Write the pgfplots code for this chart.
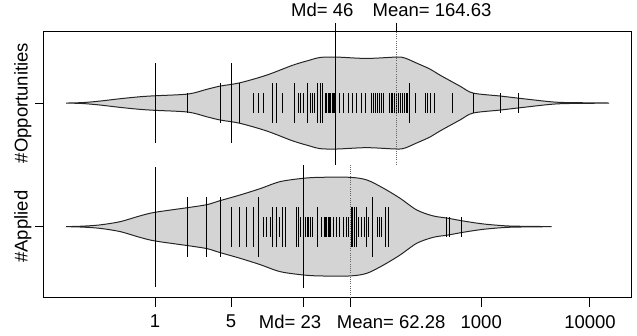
\documentclass[border=0pt]{standalone}
\usepackage{pgfplots}
\pgfplotsset{compat=1.18}
\usepackage{pgfplotstable}
\usepackage{fontspec}
\setmainfont{Liberation Sans}
\definecolor{beanfill}{gray}{0.83}
\definecolor{beanedge}{gray}{0.15}

% bean outlines: x value, signed half-width (upper half forward, lower half back)
\pgfplotstableread{
x h
0.1519 0
0.2178 0.004
0.3121 0.016
0.4767 0.035
0.7277 0.051
1 0.059
2.011 0.073
2.99 0.111
3.96 0.137
6.046 0.164
10.64 0.226
18.58 0.307
26.63 0.348
32.9 0.369
46.87 0.372
88.45 0.361
166.9 0.372
199 0.364
254.9 0.323
337.9 0.275
417.6 0.226
637.8 0.137
839.8 0.081
1487 0.057
2272 0.038
4287 0.011
6107 0.004
14950 0
6107 -0.004
4287 -0.011
2272 -0.038
1487 -0.057
839.8 -0.081
637.8 -0.137
417.6 -0.226
337.9 -0.275
254.9 -0.323
199 -0.364
166.9 -0.372
88.45 -0.361
46.87 -0.372
32.9 -0.369
26.63 -0.348
18.58 -0.307
10.64 -0.226
6.046 -0.164
3.96 -0.137
2.99 -0.111
2.011 -0.073
1 -0.059
0.7277 -0.051
0.4767 -0.035
0.3121 -0.016
0.2178 -0.004
0.1519 0
}\oppbean

\pgfplotstableread{
x h
0.1519 0
0.2178 0.004
0.3121 0.014
0.4767 0.040
0.7277 0.087
1 0.116
2.011 0.154
3.007 0.178
3.96 0.210
6.046 0.256
9.237 0.307
14.11 0.364
22.96 0.391
32.9 0.399
62.1 0.399
88.45 0.378
124.9 0.313
179 0.230
254.9 0.135
360 0.087
494.9 0.068
679.6 0.046
1038 0.022
1714 0.006
2807 0.002
4444 0
2807 -0.002
1714 -0.006
1038 -0.022
679.6 -0.046
494.9 -0.068
360 -0.087
254.9 -0.135
179 -0.230
124.9 -0.313
88.45 -0.378
62.1 -0.399
32.9 -0.399
22.96 -0.391
14.11 -0.364
9.237 -0.307
6.046 -0.256
3.96 -0.210
3.007 -0.178
2.011 -0.154
1 -0.116
0.7277 -0.087
0.4767 -0.040
0.3121 -0.014
0.2178 -0.004
0.1519 0
}\appbean

% bean lines: value, number of stacked observations
\pgfplotstableread{
x n
1 4
2 1
4 2
5 4
6 2
8 1
9 1
10 1
12 2
13 2
15 1
19 2
21 1
22 1
23 1
25 2
27 1
28 1
29 1
31 2
33 2
35 2
37 1
38 1
39 1
40 1
41 1
43 1
44 1
45 1
50 1
54 1
60 1
66 1
72 1
79 1
86 1
98 1
102 1
106 1
110 1
115 1
120 1
126 1
142 1
148 1
154 1
160 1
167 1
174 1
182 1
190 1
198 1
205 1
211 1
220 2
250 1
305 1
320 1
340 1
370 1
540 1
850 1
1500 1
2200 1
}\opplines

\pgfplotstableread{
x n
1 6
2 3
3 3
4 3
5 2
6 2
7 2
8 2
9 3
10 1
10.7 1
11.5 1
12 2
13 2
14 1
15 2
16 2
20 2
21 2
22 1
24 1
25 1
26 1
27 1
28 1
31 2
34 1
36 1
37 1
38 1
39 1
40 1
41 1
44 1
47 1
50 1
54 1
58 1
60 1
64 2
66 2
68 2
71 2
74 1
79 1
85 1
88 2
91 1
101 3
110 1
116 1
122 1
131 2
139 2
484 1
510 1
660 1
}\applines

\newcommand{\lblfont}{\fontsize{18.5}{22}\selectfont}

\begin{document}
\begin{tikzpicture}
\begin{axis}[
  at={(44pt,38.3pt)}, anchor=south west,
  scale only axis, width=587pt, height=265.7pt,
  xmode=log, xmin=0.0953, xmax=23830, ymin=0.425, ymax=2.575,
  xtick={1,5,23,62.28,1000,10000},
  xticklabels={1,5,{Md= 23\hspace*{26pt}},{\hspace*{82pt}Mean= 62.28},1000,10000},
  minor xtick={},
  ytick={1,2}, yticklabels={\#Applied,\#Opportunities},
  xtick pos=lower, ytick pos=left, tick align=outside,
  major tick length=9pt,
  tick style={black, line width=1pt},
  axis line style={black, line width=1pt},
  ticklabel style={font=\lblfont},
  xticklabel style={yshift=-5pt},
  yticklabel style={rotate=90, anchor=south},
  /pgf/number format/assume math mode=true,
]
\addplot[fill=beanfill, draw=beanedge, line width=1pt, smooth, tension=0.5] table[x=x, y expr=2+\thisrow{h}] {\oppbean};
\addplot[fill=beanfill, draw=beanedge, line width=1pt, smooth, tension=0.5] table[x=x, y expr=1+\thisrow{h}] {\appbean};

\addplot[draw=none, mark=none,
  error bars/.cd, y dir=both, y explicit, error mark=none,
  error bar style={draw=black, line width=1pt}]
  table[x=x, y expr=2, y error expr=0.081*\thisrow{n}] {\opplines};
\addplot[draw=none, mark=none,
  error bars/.cd, y dir=both, y explicit, error mark=none,
  error bar style={draw=black, line width=1pt}]
  table[x=x, y expr=1, y error expr=0.081*\thisrow{n}] {\applines};

\addplot[black, line width=1.1pt] coordinates {(46,1.5) (46,2.575)};
\addplot[black, line width=1.1pt] coordinates {(23,0.5) (23,1.5)};
\addplot[black!60, line width=0.8pt, dash pattern=on 1pt off 1.2pt] coordinates {(164.63,1.5) (164.63,2.575)};
\addplot[black!60, line width=0.8pt, dash pattern=on 1pt off 1.2pt] coordinates {(62.28,0.425) (62.28,1.5)};
\end{axis}
\begin{axis}[
  at={(44pt,38.3pt)}, anchor=south west,
  scale only axis, width=587pt, height=265.7pt,
  xmode=log, xmin=0.0953, xmax=23830, ymin=0.425, ymax=2.575,
  axis x line=top, axis y line=none,
  x axis line style={-, black, line width=1pt},
  xtick={46,164.63},
  xticklabels={{Md= 46\hspace*{27pt}},{\hspace*{72pt}Mean= 164.63}},
  minor xtick={},
  xticklabel pos=upper,
  tick align=outside,
  major tick length=9pt,
  tick style={black, line width=1pt},
  ticklabel style={font=\lblfont},
  xticklabel style={yshift=2.5pt},
]
\addplot[draw=none] coordinates {(1,1)};
\end{axis}
\pgfresetboundingbox
\path[use as bounding box] (0,0) rectangle (637pt,336pt);
\end{tikzpicture}
\end{document}
